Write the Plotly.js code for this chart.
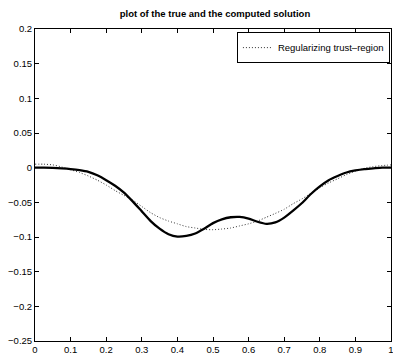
<!DOCTYPE html>
<html>
<head>
<meta charset="utf-8">
<script src="https://cdn.plot.ly/plotly-3.0.1.min.js"></script>
<style>html,body{margin:0;padding:0;background:#fff}#chart{width:393px;height:363px}</style>
</head>
<body>
<div id="chart"></div>
<script>
var xs = [0, 0.025, 0.05, 0.075, 0.1, 0.125, 0.15, 0.175, 0.2, 0.225, 0.25, 0.275, 0.3, 0.325, 0.35, 0.375, 0.4, 0.425, 0.45, 0.475, 0.5, 0.525, 0.55, 0.575, 0.6, 0.625, 0.65, 0.675, 0.7, 0.725, 0.75, 0.775, 0.8, 0.825, 0.85, 0.875, 0.9, 0.925, 0.95, 0.975, 1];
var trueSolution = [0, 0, -0.0003, -0.001, -0.002, -0.0035, -0.006, -0.011, -0.018, -0.026, -0.036, -0.049, -0.063, -0.077, -0.088, -0.096, -0.0995, -0.0985, -0.095, -0.088, -0.080, -0.0745, -0.0715, -0.071, -0.0735, -0.078, -0.081, -0.079, -0.072, -0.062, -0.051, -0.038, -0.027, -0.018, -0.012, -0.007, -0.004, -0.002, -0.001, 0, 0];
var regularized = [0.005, 0.005, 0.004, 0.001, -0.003, -0.007, -0.012, -0.018, -0.025, -0.033, -0.040, -0.047, -0.056, -0.065, -0.072, -0.077, -0.081, -0.085, -0.087, -0.089, -0.0895, -0.0885, -0.087, -0.084, -0.081, -0.077, -0.0715, -0.066, -0.060, -0.052, -0.045, -0.037, -0.029, -0.022, -0.016, -0.010, -0.005, -0.001, 0.0015, 0.003, 0.004];
var xTicks = [0, 0.1, 0.2, 0.3, 0.4, 0.5, 0.6, 0.7, 0.8, 0.9, 1];
var xTickText = ['0', '0.1', '0.2', '0.3', '0.4', '0.5', '0.6', '0.7', '0.8', '0.9', '1'];
var yTicks = [-0.25, -0.2, -0.15, -0.1, -0.05, 0, 0.05, 0.1, 0.15, 0.2];
var yTickText = ['\u22120.25', '\u22120.2', '\u22120.15', '\u22120.1', '\u22120.05', '0', '0.05', '0.1', '0.15', '0.2'];
var titleText = 'plot of the true and the computed solution';
var legendName = 'Regularizing trust\u2013region';

var traces = [
  {x: xs, y: regularized, mode: 'lines', name: legendName,
   line: {color: '#333', width: 1, dash: '1px,2px', shape: 'spline', smoothing: 0.6}},
  {x: xs, y: trueSolution, mode: 'lines', name: 'true', showlegend: false,
   line: {color: '#000', width: 2.3, shape: 'spline', smoothing: 0.6}}
];
var axisCommon = {
  showgrid: false, zeroline: false, showline: true, linecolor: '#000', linewidth: 1,
  mirror: 'ticks', ticks: 'inside', ticklen: 4, tickcolor: '#000', tickwidth: 1,
  ticklabeloverflow: 'allow',
  tickfont: {family: 'Liberation Sans, Arial, sans-serif', size: 9.5, color: '#000'}
};
var layout = {
  width: 393, height: 363,
  margin: {l: 35, r: 2, t: 29, b: 22},
  paper_bgcolor: '#fff', plot_bgcolor: '#fff',
  title: {text: '<b>' + titleText + '</b>', x: 0.547, xanchor: 'center', y: 0.962, yanchor: 'middle',
          font: {family: 'Liberation Sans, Arial, sans-serif', size: 9.5, color: '#000'}},
  xaxis: Object.assign({}, axisCommon, {range: [0, 1], tickvals: xTicks, ticktext: xTickText}),
  yaxis: Object.assign({}, axisCommon, {range: [-0.25, 0.2], tickvals: yTicks, ticktext: yTickText}),
  showlegend: true,
  legend: {x: 0.997, xanchor: 'right', y: 0.99, yanchor: 'top', bgcolor: '#fff',
           bordercolor: '#000', borderwidth: 1, itemwidth: 30,
           font: {family: 'Liberation Sans, Arial, sans-serif', size: 9.5, color: '#000'},
           tracegroupgap: 0}
};
Plotly.newPlot('chart', traces, layout, {staticPlot: true, displayModeBar: false});
</script>
</body>
</html>
